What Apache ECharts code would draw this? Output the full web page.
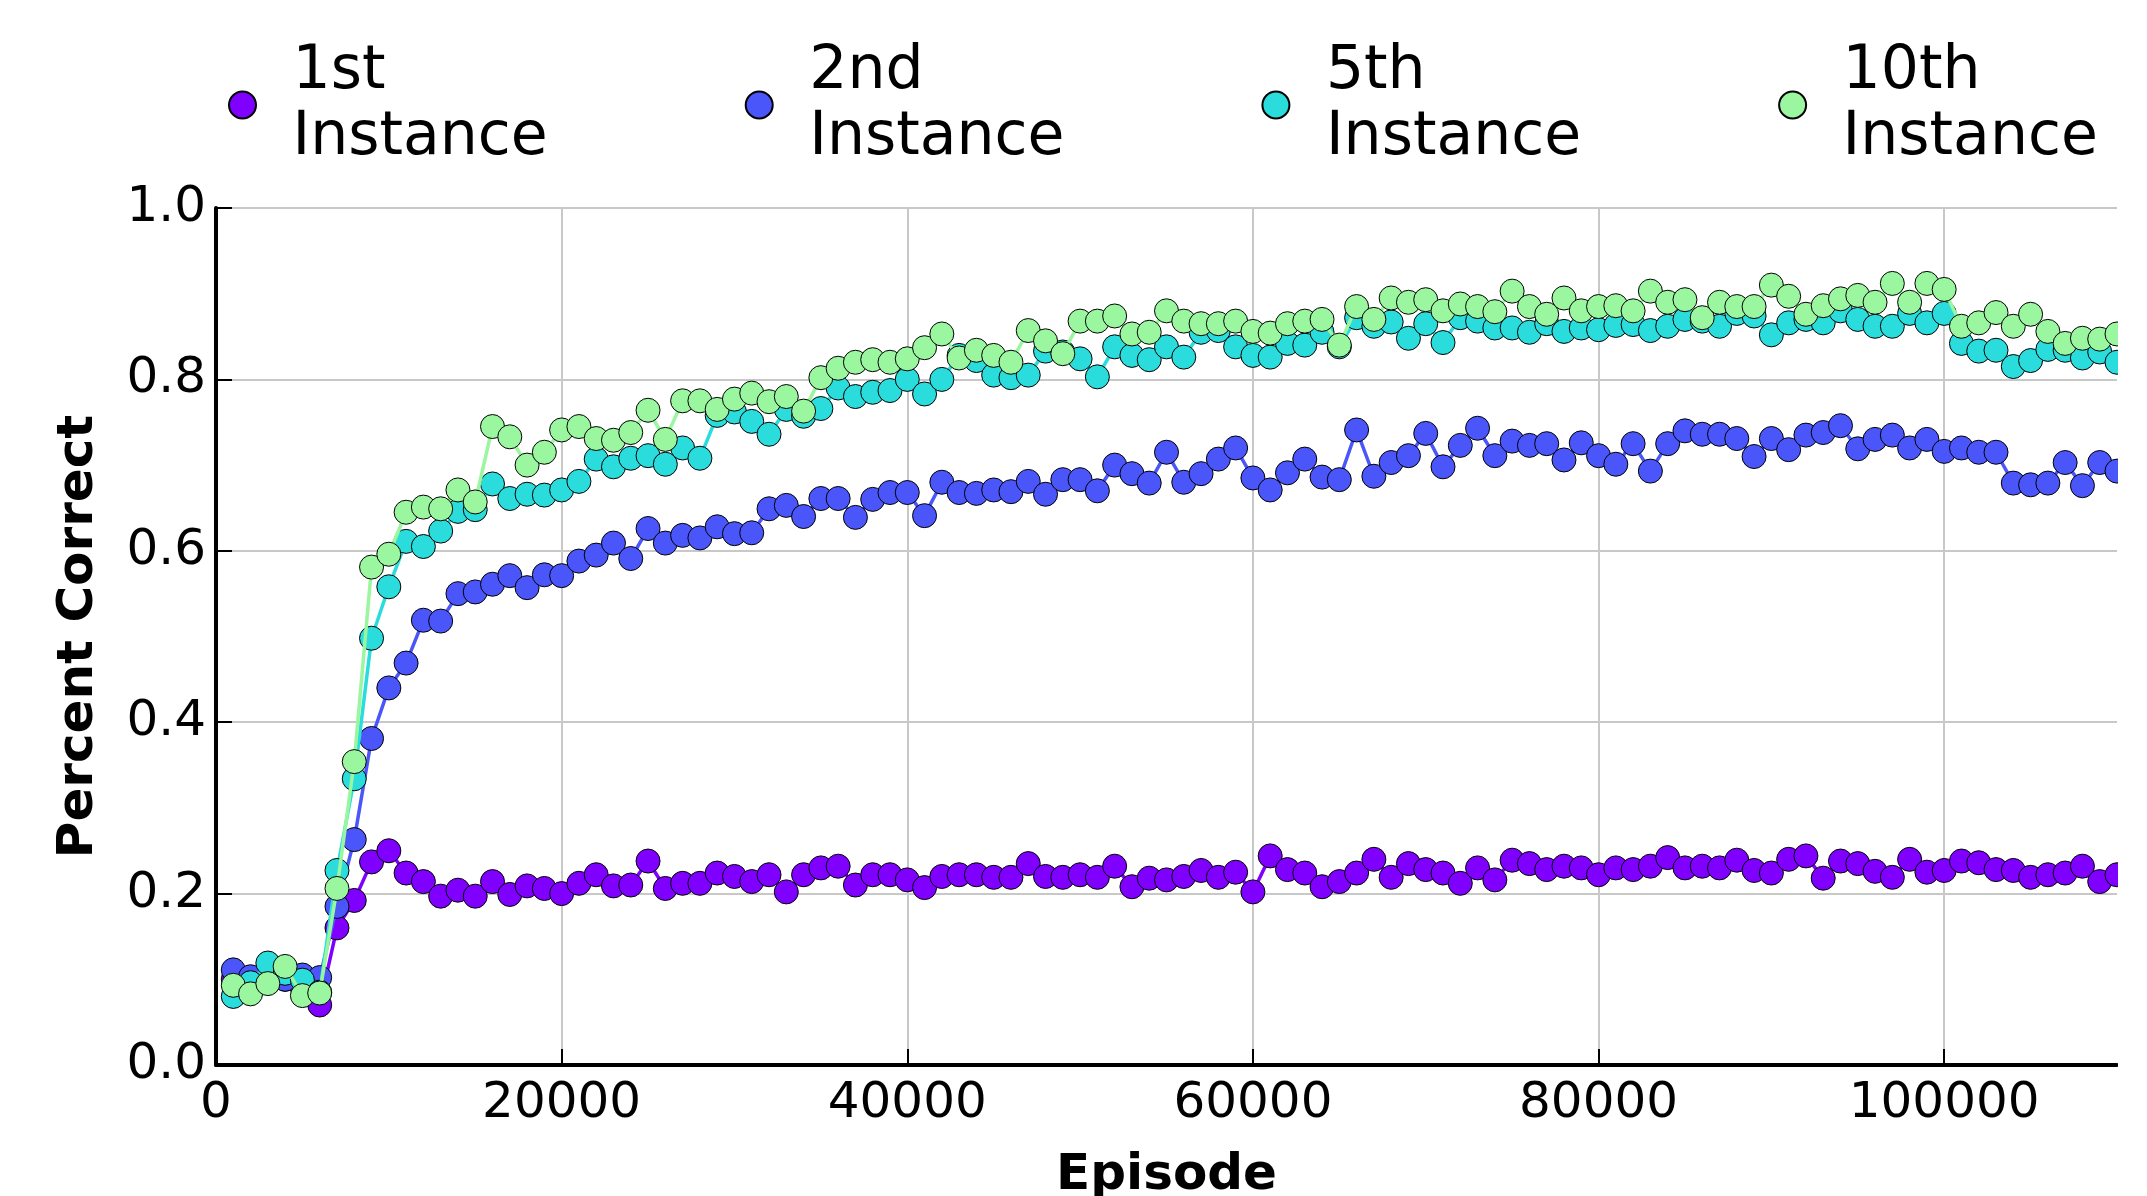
<!DOCTYPE html>
<html>
<head>
<meta charset="utf-8">
<script src="https://cdn.jsdelivr.net/npm/echarts@6/dist/echarts.min.js"></script>
<style>
html,body{margin:0;padding:0;background:#fff;overflow:hidden;}
#chart{width:2147px;height:1196px;}
</style>
</head>
<body>
<div id="chart"></div>
<script>
// Episodes (x values)
const episodes = [
  1000,2000,3000,4000,5000,6000,7000,8000,9000,10000,
  11000,12000,13000,14000,15000,16000,17000,18000,19000,20000,
  21000,22000,23000,24000,25000,26000,27000,28000,29000,30000,
  31000,32000,33000,34000,35000,36000,37000,38000,39000,40000,
  41000,42000,43000,44000,45000,46000,47000,48000,49000,50000,
  51000,52000,53000,54000,55000,56000,57000,58000,59000,60000,
  61000,62000,63000,64000,65000,66000,67000,68000,69000,70000,
  71000,72000,73000,74000,75000,76000,77000,78000,79000,80000,
  81000,82000,83000,84000,85000,86000,87000,88000,89000,90000,
  91000,92000,93000,94000,95000,96000,97000,98000,99000,100000,
  101000,102000,103000,104000,105000,106000,107000,108000,109000,110000
];

const seriesNames = ['1st Instance', '2nd Instance', '5th Instance', '10th Instance'];

const inst1 = [
  0.100,0.100,0.100,0.100,0.090,0.070,0.160,0.192,0.237,0.250,
  0.224,0.214,0.197,0.204,0.197,0.214,0.199,0.209,0.206,0.200,
  0.212,0.222,0.209,0.210,0.238,0.206,0.212,0.212,0.224,0.220,
  0.214,0.222,0.202,0.222,0.230,0.232,0.210,0.222,0.222,0.216,
  0.207,0.220,0.222,0.222,0.219,0.219,0.235,0.220,0.219,0.222,
  0.219,0.232,0.208,0.218,0.216,0.220,0.227,0.219,0.225,0.202,
  0.244,0.228,0.224,0.208,0.214,0.224,0.240,0.219,0.235,0.228,
  0.224,0.212,0.230,0.216,0.239,0.235,0.228,0.232,0.230,0.222,
  0.230,0.228,0.232,0.242,0.230,0.232,0.230,0.239,0.227,0.224,
  0.240,0.244,0.218,0.238,0.235,0.226,0.219,0.240,0.225,0.227,
  0.238,0.236,0.228,0.227,0.219,0.222,0.224,0.232,0.214,0.222
];

const inst2 = [
  0.111,0.103,0.100,0.100,0.105,0.102,0.185,0.263,0.381,0.440,
  0.469,0.519,0.518,0.550,0.552,0.561,0.571,0.557,0.572,0.571,
  0.588,0.595,0.609,0.591,0.626,0.609,0.618,0.615,0.628,0.620,
  0.621,0.649,0.653,0.640,0.661,0.661,0.639,0.660,0.668,0.668,
  0.641,0.680,0.668,0.667,0.671,0.669,0.681,0.666,0.683,0.683,
  0.670,0.700,0.690,0.679,0.715,0.680,0.690,0.707,0.720,0.685,
  0.671,0.691,0.707,0.686,0.683,0.741,0.687,0.703,0.711,0.737,
  0.698,0.723,0.743,0.711,0.728,0.723,0.725,0.706,0.726,0.711,
  0.701,0.725,0.693,0.725,0.740,0.736,0.736,0.731,0.710,0.731,
  0.718,0.735,0.738,0.746,0.719,0.730,0.735,0.720,0.730,0.716,
  0.720,0.715,0.715,0.679,0.677,0.679,0.703,0.676,0.703,0.693
];

const inst5 = [
  0.080,0.096,0.119,0.107,0.099,0.085,0.227,0.334,0.498,0.558,
  0.611,0.605,0.623,0.646,0.648,0.678,0.661,0.666,0.665,0.671,
  0.681,0.707,0.698,0.708,0.711,0.701,0.720,0.708,0.758,0.762,
  0.751,0.736,0.765,0.757,0.766,0.790,0.780,0.785,0.787,0.800,
  0.783,0.800,0.828,0.822,0.805,0.802,0.805,0.833,0.832,0.824,
  0.803,0.838,0.828,0.823,0.838,0.826,0.855,0.857,0.838,0.828,
  0.826,0.842,0.840,0.855,0.838,0.872,0.862,0.867,0.848,0.865,
  0.843,0.872,0.868,0.860,0.860,0.855,0.865,0.856,0.860,0.858,
  0.863,0.864,0.857,0.862,0.870,0.868,0.862,0.877,0.874,0.852,
  0.866,0.870,0.866,0.880,0.870,0.862,0.862,0.877,0.866,0.877,
  0.842,0.833,0.834,0.815,0.822,0.835,0.834,0.825,0.832,0.820
];

const inst10 = [
  0.093,0.083,0.095,0.115,0.081,0.084,0.206,0.354,0.581,0.596,
  0.645,0.651,0.649,0.671,0.657,0.745,0.733,0.700,0.715,0.741,
  0.745,0.731,0.729,0.738,0.764,0.730,0.775,0.775,0.765,0.777,
  0.784,0.774,0.780,0.763,0.802,0.813,0.820,0.823,0.820,0.824,
  0.837,0.853,0.825,0.834,0.828,0.820,0.857,0.845,0.830,0.868,
  0.868,0.874,0.853,0.855,0.880,0.868,0.865,0.865,0.868,0.856,
  0.854,0.865,0.868,0.870,0.840,0.885,0.870,0.895,0.890,0.893,
  0.880,0.888,0.885,0.879,0.903,0.885,0.876,0.895,0.880,0.885,
  0.886,0.880,0.903,0.890,0.893,0.872,0.890,0.885,0.885,0.910,
  0.897,0.876,0.886,0.894,0.898,0.890,0.912,0.890,0.912,0.905,
  0.862,0.866,0.878,0.862,0.876,0.856,0.842,0.848,0.847,0.853
];

const xTicks = [0, 20000, 40000, 60000, 80000, 100000];
const yTicks = [0.0, 0.2, 0.4, 0.6, 0.8, 1.0];

const colors = ['#7f00ff', '#4a56fa', '#2adcdc', '#9af7a0'];
const allValues = [inst1, inst2, inst5, inst10];

const FONT = 'DejaVu Sans';

const chart = echarts.init(document.getElementById('chart'), null, {renderer: 'canvas'});

const series = seriesNames.map((name, i) => ({
  name: name,
  type: 'line',
  data: episodes.map((x, j) => [x, allValues[i][j]]),
  symbol: 'circle',
  symbolSize: 24,
  showSymbol: true,
  clip: false,
  lineStyle: {color: colors[i], width: 3.5},
  itemStyle: {color: colors[i], borderColor: '#000', borderWidth: 1},
  emphasis: {disabled: true},
  z: 2 + i
}));

chart.setOption({
  animation: false,
  backgroundColor: '#fff',
  textStyle: {fontFamily: FONT, color: '#000'},
  color: colors,
  grid: {left: 216, right: 30, top: 208, bottom: 131, containLabel: false, outerBoundsMode: 'none'},
  legend: {
    data: seriesNames,
    left: 223,
    top: 34,
    icon: 'circle',
    itemWidth: 90,
    itemHeight: 27,
    itemGap: 197,
    lineStyle: {opacity: 0},
    formatter: n => n.replace(' ', '\n'),
    textStyle: {fontFamily: FONT, fontSize: 60, lineHeight: 66, color: '#000'},
    selectedMode: false
  },
  xAxis: {
    type: 'value',
    min: 0,
    max: 110000,
    interval: 20000,
    name: 'Episode',
    nameLocation: 'middle',
    nameGap: 86,
    nameTextStyle: {fontFamily: FONT, fontSize: 50, fontWeight: 'bold', color: '#000'},
    axisLine: {show: true, onZero: false, lineStyle: {color: '#000', width: 4}},
    axisTick: {show: true, inside: true, length: 16, customValues: xTicks, lineStyle: {color: '#000', width: 2}},
    axisLabel: {customValues: xTicks, fontFamily: FONT, fontSize: 50, margin: 14, color: '#000',
      formatter: v => String(v)},
    splitLine: {show: true, lineStyle: {color: '#c8c8c8', width: 2}}
  },
  yAxis: {
    type: 'value',
    min: 0,
    max: 1,
    interval: 0.2,
    name: 'Percent Correct',
    nameLocation: 'middle',
    nameGap: 112,
    nameTextStyle: {fontFamily: FONT, fontSize: 50, fontWeight: 'bold', color: '#000'},
    axisLine: {show: true, onZero: false, lineStyle: {color: '#000', width: 4}},
    axisTick: {show: true, inside: true, length: 16, customValues: yTicks, lineStyle: {color: '#000', width: 2}},
    axisLabel: {customValues: yTicks, fontFamily: FONT, fontSize: 50, margin: 10, color: '#000',
      formatter: v => v.toFixed(1)},
    splitLine: {show: true, lineStyle: {color: '#c8c8c8', width: 2}}
  },
  graphic: [{
    type: 'rect',
    z: 100,
    shape: {x: 2118, y: 190, width: 40, height: 880},
    style: {fill: '#fff'}
  }],
  series: series
});
</script>
</body>
</html>
